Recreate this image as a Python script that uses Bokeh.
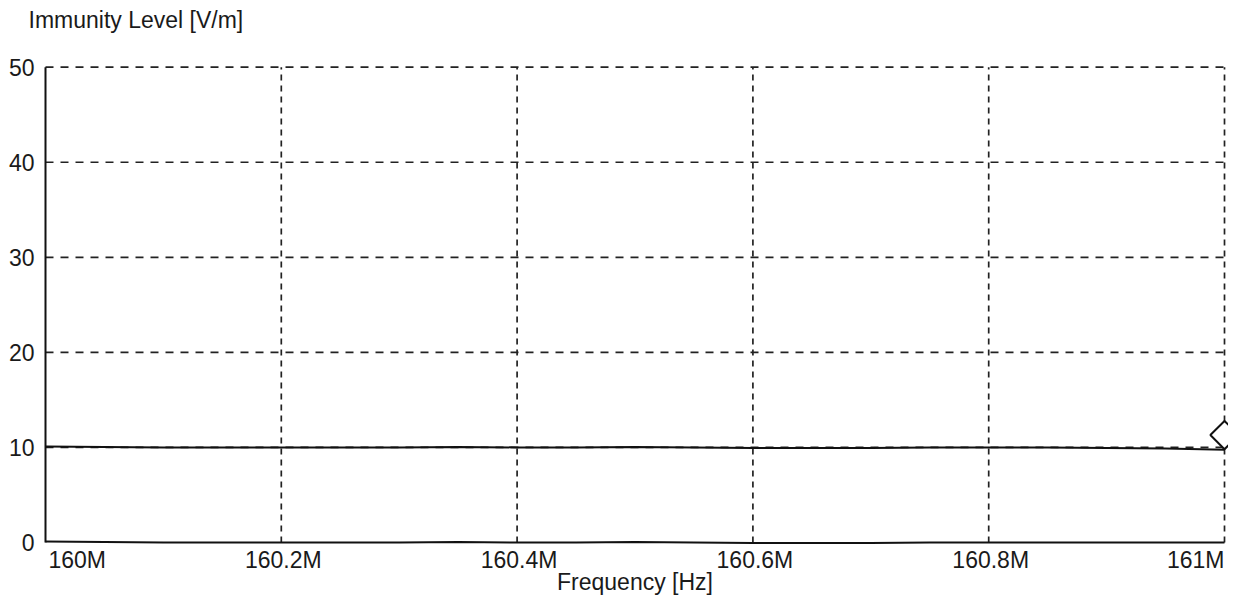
import math
from bokeh.plotting import figure
from bokeh.models import Range1d, ColumnDataSource
from bokeh.core.properties import value
from bokeh.embed import file_html
from bokeh.resources import INLINE

# ---- data ----
freq_hz = [160.00e6, 160.05e6, 160.10e6, 160.15e6, 160.20e6, 160.25e6, 160.30e6,
           160.35e6, 160.40e6, 160.45e6, 160.50e6, 160.55e6, 160.60e6, 160.65e6,
           160.70e6, 160.75e6, 160.80e6, 160.85e6, 160.90e6, 160.95e6, 161.00e6]
immunity_vm = [10.1, 10.05, 10.0, 10.0, 10.0, 10.0, 10.0,
               10.05, 10.0, 10.0, 10.05, 10.0, 9.95, 9.95,
               9.95, 10.0, 10.0, 10.0, 9.95, 9.9, 9.75]
baseline_vm = [0.1, 0.05, 0.0, 0.0, 0.0, 0.0, 0.0,
               0.05, 0.0, 0.0, 0.05, 0.0, -0.05, -0.05,
               -0.05, 0.0, 0.0, 0.0, 0.0, 0.0, 0.0]
marker_freq = [161.00e6]
marker_vm = [11.3]

x_ticks = [160.0e6, 160.2e6, 160.4e6, 160.6e6, 160.8e6, 161.0e6]
x_tick_labels = ["160M", "160.2M", "160.4M", "160.6M", "160.8M", "161M"]
y_ticks = [0, 10, 20, 30, 40, 50]
y_tick_labels = ["0", "10", "20", "30", "40", "50"]
x_title = "Frequency [Hz]"
y_title = "Immunity Level [V/m]"

FONT = value("Liberation Sans")
FS = "23px"
TXT = "#1a1a1a"
INK = "#111111"

x0, x1 = x_ticks[0], x_ticks[-1]
y0, y1 = y_ticks[0], y_ticks[-1]

# the frame fills the whole canvas; data area 160M..161M / 0..50 sits inside it
p = figure(width=1228, height=596, output_backend="svg", toolbar_location=None,
           x_axis_location=None, y_axis_location=None, title=None,
           x_range=Range1d(159.961832e6, 161.00339e6), y_range=Range1d(-5.681, 57.017),
           min_border=0)
p.outline_line_color = None
p.xgrid.visible = False
p.ygrid.visible = False
p.background_fill_color = "white"
p.border_fill_color = "white"

# dashed grid built from the tick arrays
gx = x_ticks[1:]
p.segment(x0=gx, y0=[y0] * len(gx), x1=gx, y1=[y1] * len(gx),
          line_color="#222222", line_width=1.7, line_dash="6 5")
gy = y_ticks[1:]
p.segment(x0=[x0] * len(gy), y0=gy, x1=[x1] * len(gy), y1=gy,
          line_color="#222222", line_width=1.7, line_dash="8 7")

# left axis line
p.segment(x0=[x0], y0=[y0], x1=[x0], y1=[y1], line_color=INK, line_width=2)

# data
p.line(freq_hz, baseline_vm, line_color=INK, line_width=2)
p.line(freq_hz, immunity_vm, line_color=INK, line_width=2)
p.scatter(marker_freq, marker_vm, marker="square", angle=math.pi / 4, size=20,
          fill_color="white", line_color=INK, line_width=2)

# y tick labels
p.text(x=[x0] * len(y_ticks), y=y_ticks, text=y_tick_labels, x_offset=-11,
       text_align="right", text_baseline="middle", text_font=FONT,
       text_font_size=FS, text_color=TXT)

# x tick labels (end labels kept inside the plot)
aligns = ["left"] + ["center"] * (len(x_ticks) - 2) + ["right"]
xoffs = [3] + [2] * (len(x_ticks) - 2) + [0]
xsrc = ColumnDataSource(dict(x=x_ticks, y=[y0] * len(x_ticks), t=x_tick_labels,
                             a=aligns, xo=xoffs))
p.text(x="x", y="y", text="t", text_align="a", x_offset="xo", y_offset=18,
       source=xsrc, text_baseline="middle", text_font=FONT,
       text_font_size=FS, text_color=TXT)

# axis titles
p.text(x=[(x0 + x1) / 2], y=[y0], text=[x_title], y_offset=40,
       text_align="center", text_baseline="middle", text_font=FONT,
       text_font_size=FS, text_color=TXT)
p.text(x=[x0], y=[y1], text=[y_title], x_offset=-17, y_offset=-47,
       text_align="left", text_baseline="middle", text_font=FONT,
       text_font_size=FS, text_color=TXT)

open("out.html", "w").write(file_html(p, INLINE))
